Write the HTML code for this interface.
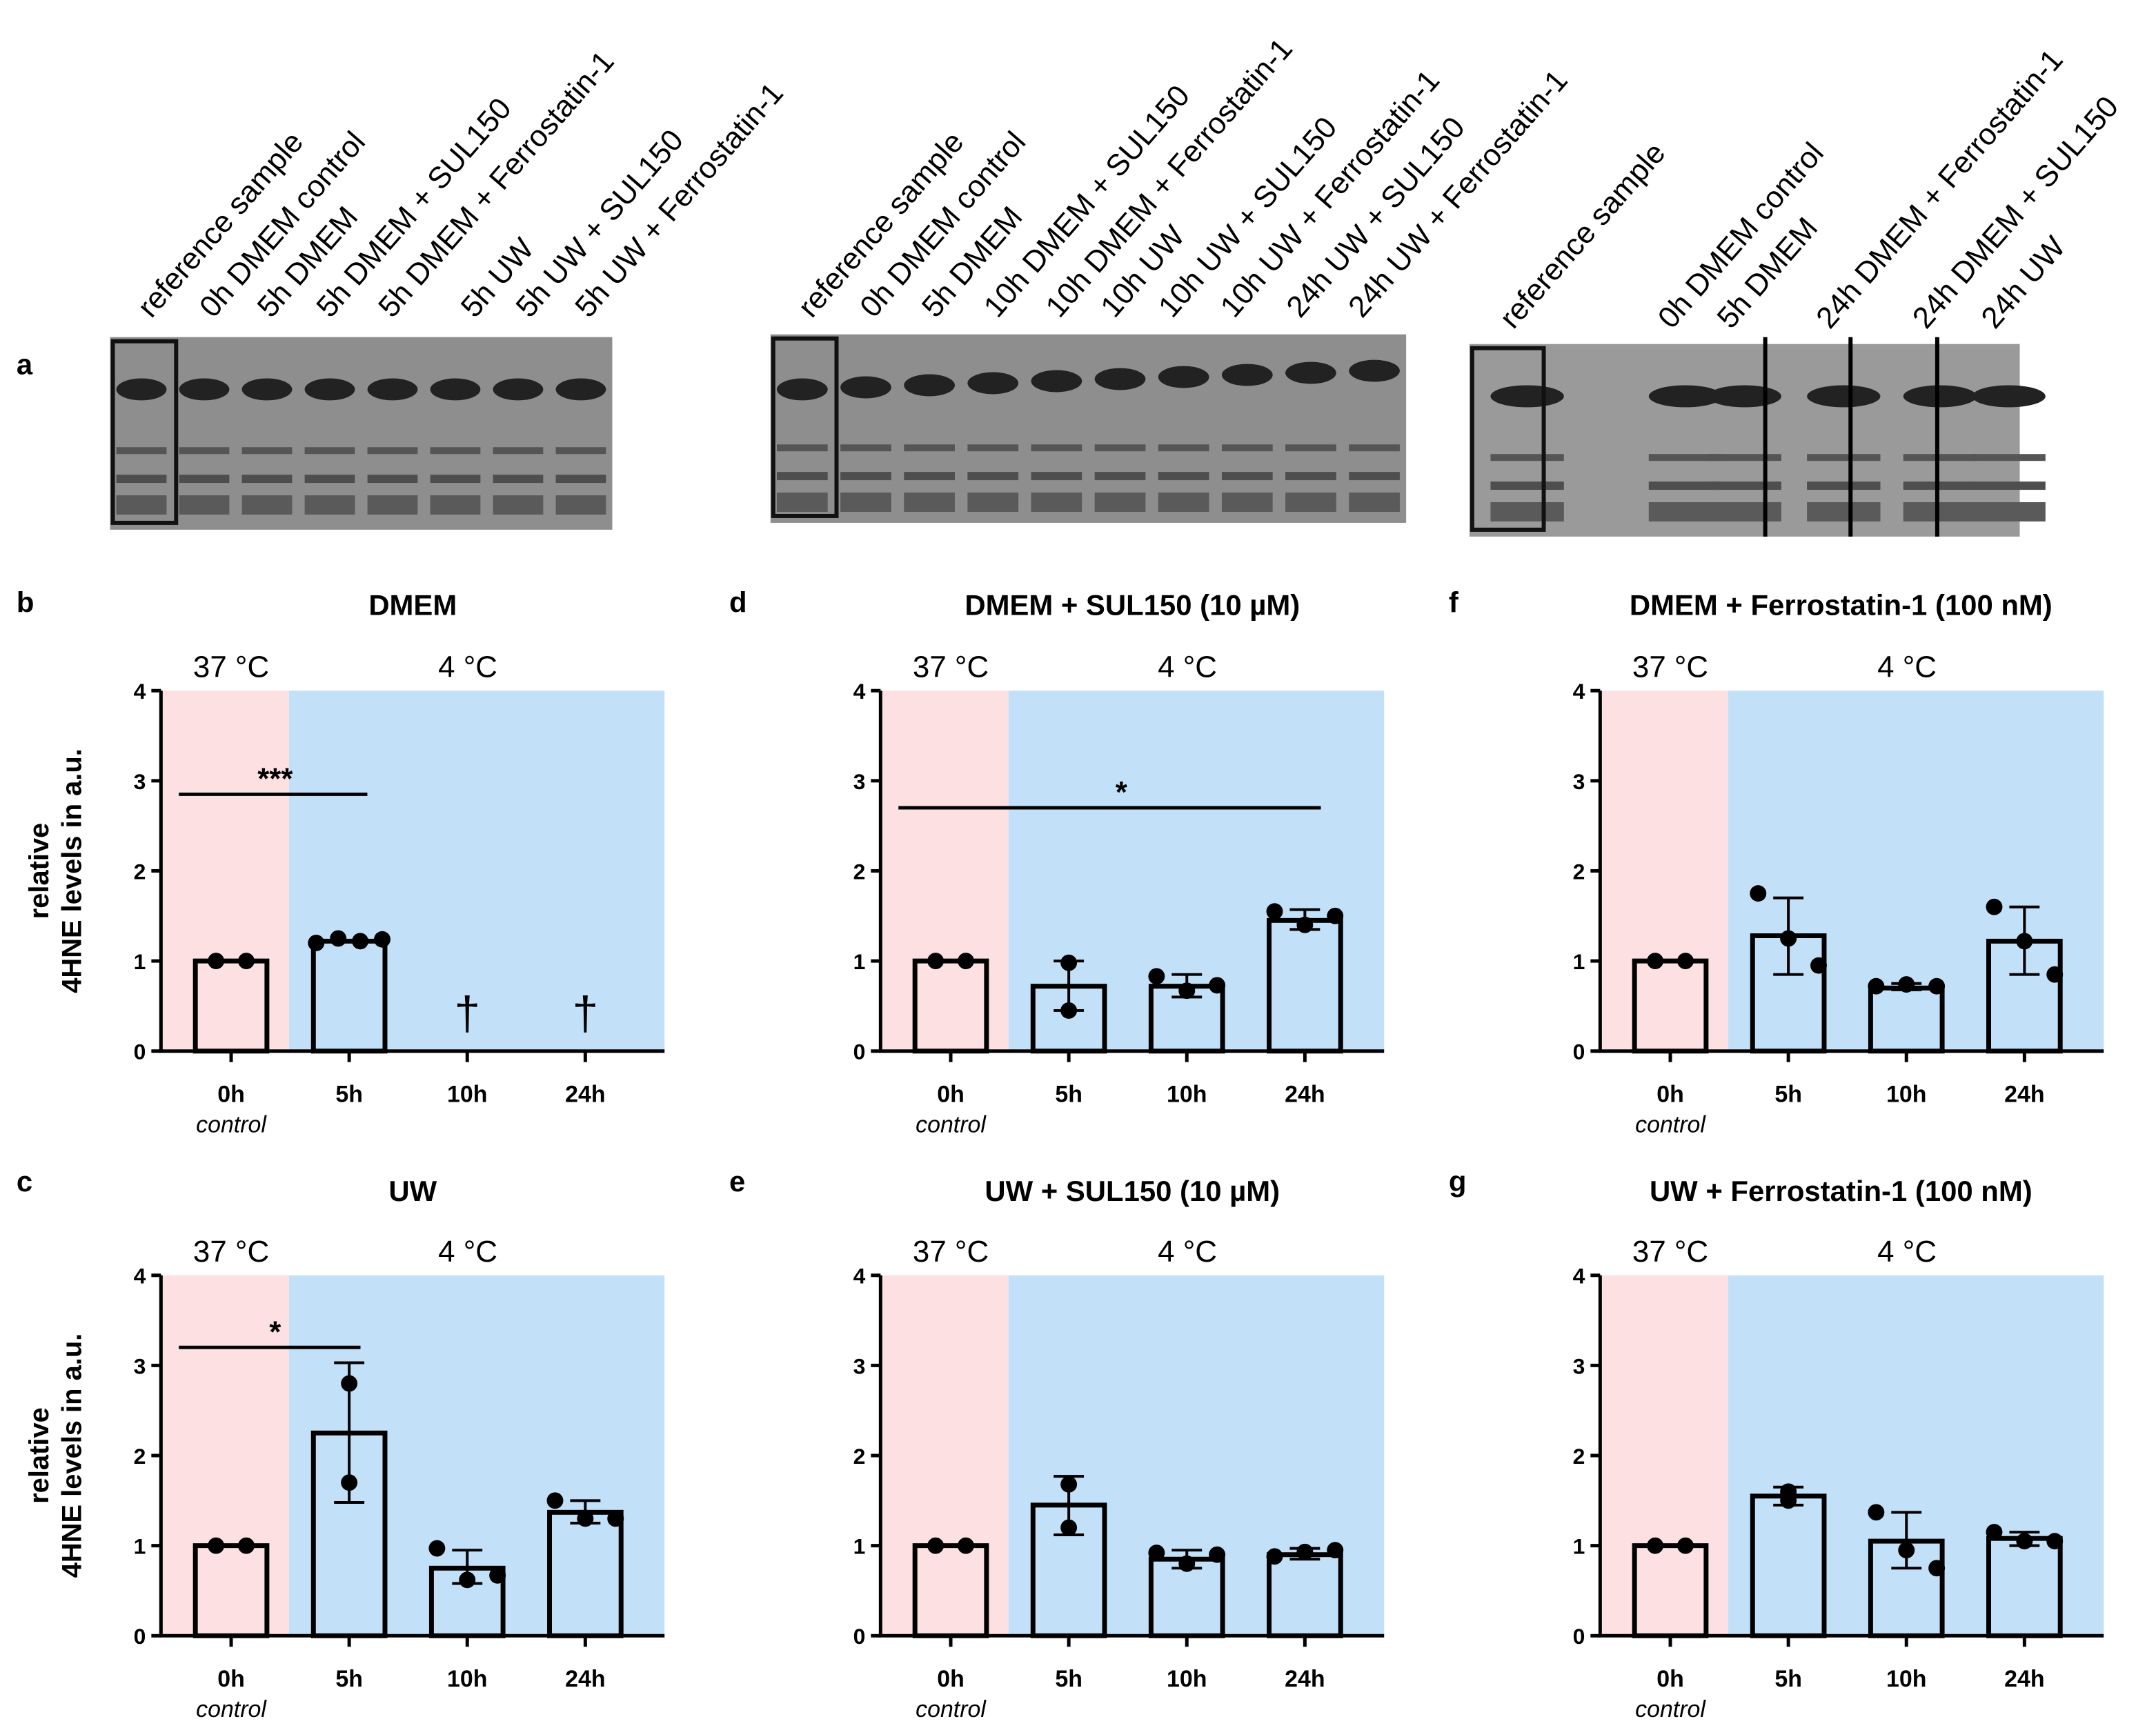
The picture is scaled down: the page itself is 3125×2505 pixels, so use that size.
<!DOCTYPE html>
<html><head><meta charset="utf-8">
<style>
html,body{margin:0;padding:0;background:#fff;}
svg{display:block;font-family:"Liberation Sans",Arial,sans-serif;}
</style></head>
<body>
<svg id="fig" width="3125" height="2505" viewBox="0 0 1567 1256" xmlns="http://www.w3.org/2000/svg">
<g id="blots"></g>
<g id="charts"></g>
</svg>
<script>
const NS="http://www.w3.org/2000/svg";
const categories=["0h","5h","10h","24h"];
const yTicks=[0,1,2,3,4];
const titles=["DMEM","UW","DMEM + SUL150  (10 µM)","UW + SUL150 (10 µM)","DMEM + Ferrostatin-1 (100 nM)","UW  + Ferrostatin-1 (100 nM)"];
const panelLetters=["b","c","d","e","f","g"];
const meansB=[1,1.22,null,null];
const meansC=[1,2.25,0.75,1.37];
const meansD=[1,0.72,0.72,1.45];
const meansE=[1,1.45,0.85,0.9];
const meansF=[1,1.28,0.7,1.22];
const meansG=[1,1.55,1.05,1.08];
const errB=[null,null,null,null];
const errC=[null,[1.48,3.03],[0.58,0.95],[1.25,1.5]];
const errD=[null,[0.45,1.0],[0.6,0.85],[1.35,1.57]];
const errE=[null,[1.12,1.77],[0.75,0.95],[0.85,0.97]];
const errF=[null,[0.85,1.7],[0.68,0.75],[0.85,1.6]];
const errG=[null,[1.45,1.65],[0.75,1.37],[1.0,1.15]];
const ptsB=[[1,1],[1.2,1.25,1.22,1.24],[],[]];
const ptsC=[[1,1],[2.8,1.7],[0.97,0.62,0.67],[1.5,1.3,1.3]];
const ptsD=[[1,1],[0.98,0.45],[0.83,0.67,0.73],[1.55,1.4,1.5]];
const ptsE=[[1,1],[1.68,1.2],[0.92,0.8,0.9],[0.88,0.93,0.95]];
const ptsF=[[1,1],[1.75,1.25,0.95],[0.72,0.74,0.72],[1.6,1.22,0.85]];
const ptsG=[[1,1],[1.6,1.5],[1.37,0.95,0.75],[1.15,1.05,1.05]];
const sigLevels=[2.85,3.2,2.7,null,null,null];
const sigLabels=["***","*","*","","",""];

function el(tag,attrs,parent,text){const e=document.createElementNS(NS,tag);for(const k in attrs)e.setAttribute(k,attrs[k]);if(text!==undefined)e.textContent=text;parent.appendChild(e);return e;}

const means=[meansB,meansC,meansD,meansE,meansF,meansG];
const errs=[errB,errC,errD,errE,errF,errG];
const pts=[ptsB,ptsC,ptsD,ptsE,ptsF,ptsG];
const charts=document.getElementById('charts');
for(let p=0;p<6;p++){
  const col=Math.floor(p/2),row=p%2;
  const ox=117+col*523, y0=row?1189:764, unit=65.5;
  const yS=v=>y0-v*unit;
  const xS=i=>ox+51+i*85.8;
  const g=el('g',{},charts);
  
  
  const r1=el('rect',{x:ox,y:yS(4),width:93,height:4*unit,fill:'#fde0e2'},g);
  
  const r2=el('rect',{x:ox+93,y:yS(4),width:273,height:4*unit,fill:'#c2e0f8'},g);
  
  const lt=el('text',{x:ox-105+(col?-5:0),y:row?866:445,'font-size':21,'font-weight':'bold'},g,panelLetters[p]);
  
  const tt=el('text',{x:ox+183+(col===2?-8:0),y:row?873:447,'font-size':21,'font-weight':'bold','text-anchor':'middle'},g,titles[p]);
  
  const t1=el('text',{x:ox+51,y:yS(4)-10,'font-size':22,'text-anchor':'middle'},g,'37 °C');
  
  const t2=el('text',{x:ox+223,y:yS(4)-10,'font-size':22,'text-anchor':'middle'},g,'4 °C');
  
  el('line',{x1:ox,y1:yS(4),x2:ox,y2:y0+1,stroke:'#000','stroke-width':2.5},g);
  el('line',{x1:ox-1,y1:y0,x2:ox+366,y2:y0,stroke:'#000','stroke-width':2.5},g);
  yTicks.forEach(v=>{
    el('line',{x1:ox-7,y1:yS(v),x2:ox,y2:yS(v),stroke:'#000','stroke-width':2.5},g);
    const tl=el('text',{x:ox-11,y:yS(v)+6,'font-size':16,'font-weight':'bold','text-anchor':'end'},g,String(v));
    
  });
  if(col===0){
    const yt=el('text',{transform:`translate(${ox-80},${y0-131}) rotate(-90)`,'font-size':20,'font-weight':'bold','text-anchor':'middle'},g);
    
    el('tspan',{x:0,y:-2},yt,'relative');el('tspan',{x:0,y:22},yt,'4HNE levels in a.u.');
  }
  categories.forEach((c,i)=>{
    el('line',{x1:xS(i),y1:y0,x2:xS(i),y2:y0+8,stroke:'#000','stroke-width':2.5},g);
    const xl=el('text',{x:xS(i),y:y0+37,'font-size':17,'font-weight':'bold','text-anchor':'middle'},g,c);
    
    if(i===0){const ct=el('text',{x:xS(i),y:y0+59,'font-size':17,'font-style':'italic','text-anchor':'middle'},g,'control');
      }
    const m=means[p][i];
    if(m===null){
      const dg=el('text',{x:xS(i),y:y0-16,'font-size':34,'text-anchor':'middle'},g,'†');
      
    } else {
      const b=el('rect',{x:xS(i)-26,y:yS(m),width:52,height:m*unit,fill:i===0?'#fde0e2':'#c2e0f8',stroke:'#000','stroke-width':3.5},g);
      
    }
    const e=errs[p][i];
    if(e){
      el('line',{x1:xS(i),y1:yS(e[0]),x2:xS(i),y2:yS(e[1]),stroke:'#000','stroke-width':2},g);
      el('line',{x1:xS(i)-11,y1:yS(e[0]),x2:xS(i)+11,y2:yS(e[0]),stroke:'#000','stroke-width':2},g);
      el('line',{x1:xS(i)-11,y1:yS(e[1]),x2:xS(i)+11,y2:yS(e[1]),stroke:'#000','stroke-width':2},g);
    }
    const ps=pts[p][i];
    ps.forEach((v,k)=>{
      const off=ps.length===1?0:(k-(ps.length-1)/2)*(ps.length===4?16:22);
      const dx=ps.length===2&&e?0:off;
      const d=el('circle',{cx:xS(i)+dx,cy:yS(v),r:6,fill:'#000'},g);
      
    });
  });
  if(sigLevels[p]!==null){
    const x2=p===2?ox+320:ox+150-(p===1?5:0);
    el('line',{x1:ox+13,y1:yS(sigLevels[p]),x2:x2,y2:yS(sigLevels[p]),stroke:'#000','stroke-width':2.5},g);
    const st=el('text',{x:p===2?ox+175:ox+83,y:yS(sigLevels[p])-4,'font-size':22,'font-weight':'bold','text-anchor':'middle'},g,sigLabels[p]);
    
  }
}

const blots=document.getElementById('blots');
const a=el('text',{x:12,y:272,'font-size':21,'font-weight':'bold'},blots,'a');

const blotLabels1=["reference sample","0h DMEM control","5h DMEM","5h DMEM + SUL150","5h DMEM + Ferrostatin-1","5h UW","5h UW + SUL150","5h UW + Ferrostatin-1"];
const blotLabels2=["reference sample","0h DMEM control","5h DMEM","10h DMEM + SUL150","10h DMEM + Ferrostatin-1","10h UW","10h UW + SUL150","10h UW + Ferrostatin-1","24h UW + SUL150","24h UW + Ferrostatin-1"];
const blotLabels3=["reference sample","0h DMEM control","5h DMEM","24h DMEM + Ferrostatin-1","24h DMEM + SUL150","24h UW"];
const blotDefs=[
 {x:80,y:245,w:365,h:140,labels:blotLabels1,lx:[110,155,197,240,285,345,385,428]},
 {x:560,y:243,w:462,h:137,labels:blotLabels2,lx:[590,635,680,725,770,810,852,897,945,990]},
 {x:1068,y:250,w:400,h:140,labels:blotLabels3,lx:[1100,1215,1258,1330,1400,1450]}
];
blotDefs.forEach((b,bi)=>{
  const g=el('g',{},blots);
  
  el('rect',{x:b.x,y:b.y,width:b.w,height:b.h,fill:bi===2?'#9a9a9a':'#8e8e8e'},g);
  const n=b.labels.length;
  for(let k=0;k<n;k++){
    const cx=bi===2?b.lx[k]+10:b.x+(k+0.5)*b.w/n;
    const lw=b.w/n*0.8;
    const by=bi===1?b.y+40-k*1.5:b.y+38;
    el('ellipse',{cx:cx,cy:by,rx:lw/2,ry:8,fill:'#222'},g);
    el('rect',{x:cx-lw/2,y:b.y+80,width:lw,height:5,fill:'#555'},g);
    el('rect',{x:cx-lw/2,y:b.y+100,width:lw,height:6,fill:'#4e4e4e'},g);
    el('rect',{x:cx-lw/2,y:b.y+115,width:lw,height:14,fill:'#5a5a5a'},g);
  }
  el('rect',{x:b.x+2,y:b.y+3,width:bi===2?52:46,height:b.h-8,fill:'none',stroke:'#111','stroke-width':3},g);
  b.labels.forEach((t,k)=>{
    const lt=el('text',{transform:`translate(${b.lx[k]},${bi===2?240:232}) rotate(-49)`,'font-size':22},blots,t);
    
  });
});
[1283,1345,1408].forEach(x=>el('line',{x1:x,y1:245,x2:x,y2:390,stroke:'#000','stroke-width':3},blots));
</script>
</body></html>
